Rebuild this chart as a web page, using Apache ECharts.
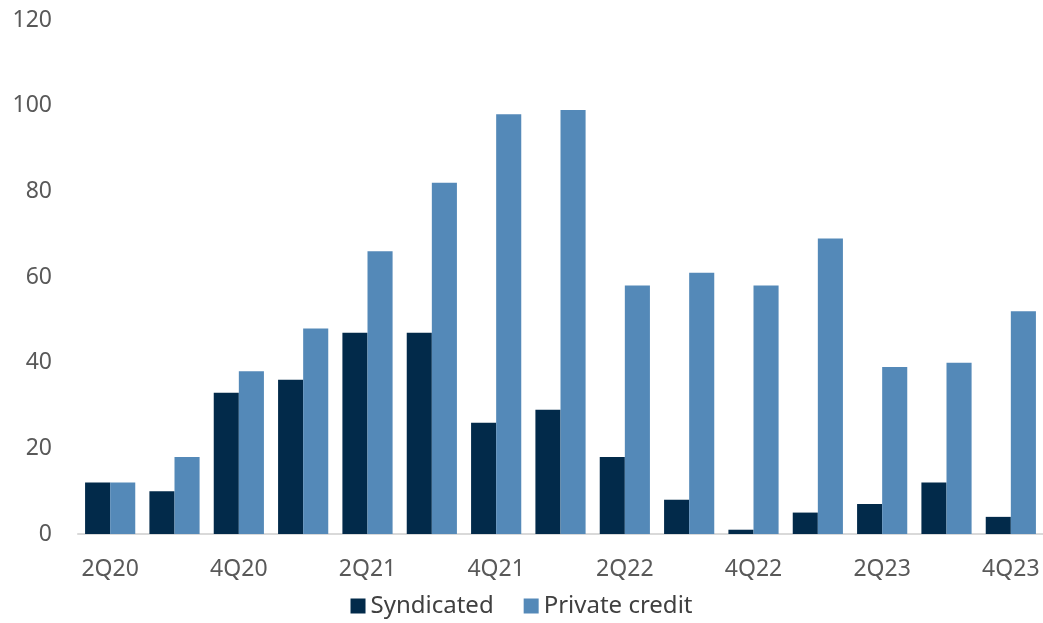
<!DOCTYPE html>
<html><head><meta charset="utf-8">
<script src="https://cdn.jsdelivr.net/npm/echarts@6/dist/echarts.min.js"></script>
<style>html,body{margin:0;padding:0;background:#fff}#c{width:1043px;height:623px}</style>
</head><body><div id="c"></div>
<script>
const categories = ['2Q20','3Q20','4Q20','1Q21','2Q21','3Q21','4Q21','1Q22','2Q22','3Q22','4Q22','1Q23','2Q23','3Q23','4Q23'];
const syndicated = [12,10,33,36,47,47,26,29,18,8,1,5,7,12,4];
const privateCredit = [12,18,38,48,66,82,98,99,58,61,58,69,39,40,52];
const yTicks = {min:0, max:120, interval:20};
const font = '"Noto Sans", "Open Sans", sans-serif';
const chart = echarts.init(document.getElementById('c'));
chart.setOption({
  animation:false,
  textStyle:{fontFamily:font},
  grid:{left:78, right:0, top:20, bottom:89},
  legend:{bottom:0, left:'center', itemWidth:15, itemHeight:15, itemGap:30, icon:'rect',
    textStyle:{fontSize:24, color:'#404040', fontFamily:font},
    data:['Syndicated','Private credit']},
  xAxis:{type:'category', data:categories,
    axisLine:{lineStyle:{color:'#d9d9d9', width:2}},
    axisTick:{show:false},
    axisLabel:{interval:1, fontSize:23, color:'#595959', margin:24, fontFamily:font}},
  yAxis:{type:'value', min:yTicks.min, max:yTicks.max, interval:yTicks.interval,
    splitLine:{show:false}, axisLine:{show:false}, axisTick:{show:false},
    axisLabel:{fontSize:23, color:'#595959', margin:26, fontFamily:font}},
  series:[
    {name:'Syndicated', type:'bar', data:syndicated, barGap:'0%', barCategoryGap:'22%',
      itemStyle:{color:'#022a4a'}},
    {name:'Private credit', type:'bar', data:privateCredit,
      itemStyle:{color:'#5489b8'}}
  ]
});
</script></body></html>
